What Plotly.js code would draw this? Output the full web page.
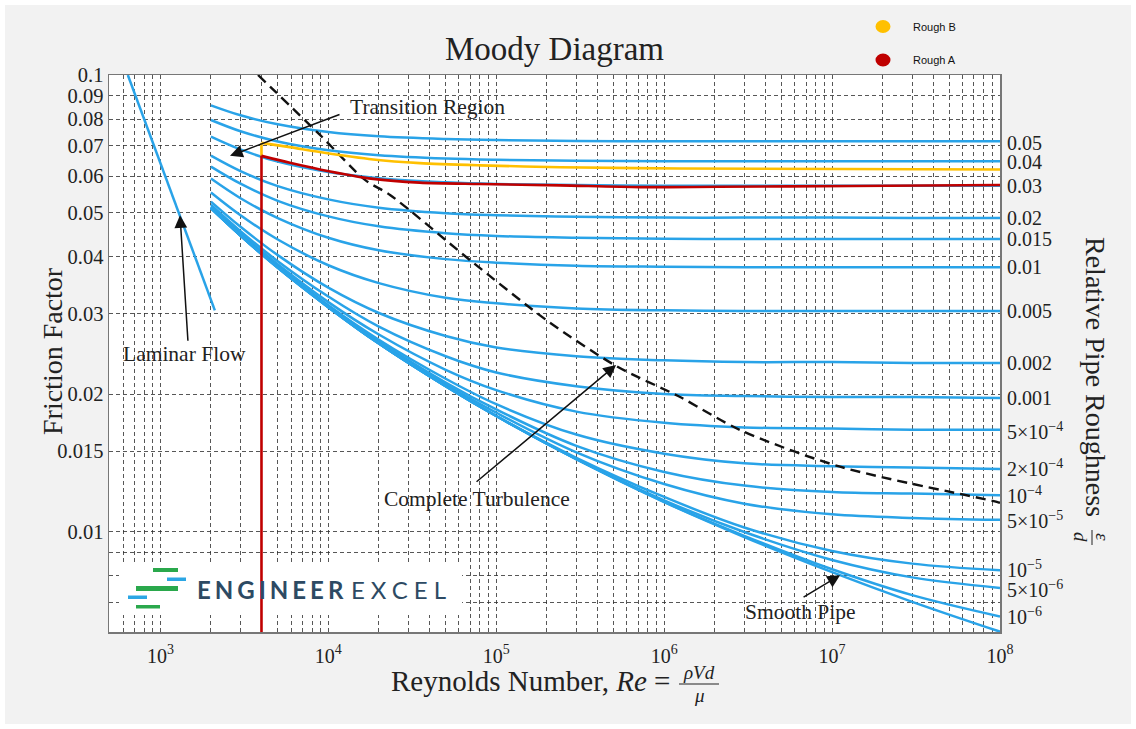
<!DOCTYPE html>
<html>
<head>
<meta charset="utf-8">
<title>Moody Diagram</title>
<script src="https://cdn.plot.ly/plotly-3.0.1.min.js"></script>
<style>
  html, body { margin: 0; padding: 0; background: #ffffff; }
  #chart { position: absolute; left: 5px; top: 5px; width: 1126px; height: 719px; }
</style>
</head>
<body>
<div id="chart"></div>
<script>
// Reynolds numbers at which the turbulent friction curves are sampled
const reynolds = [2000, 3000, 5000, 1e4, 2e4, 5e4, 1e5, 3e5, 1e6, 3e6, 1e7, 3e7, 1e8];

// Friction factor for each relative roughness, one value per Reynolds number above
const f_0_05  = [0.0858, 0.0816, 0.0780, 0.0750, 0.0734, 0.0724, 0.0720, 0.0717, 0.0716, 0.0716, 0.0716, 0.0716, 0.0716];
const f_0_04  = [0.0797, 0.0753, 0.0715, 0.0684, 0.0667, 0.0656, 0.0652, 0.0649, 0.0647, 0.0647, 0.0647, 0.0647, 0.0647];
const f_0_03  = [0.0733, 0.0687, 0.0646, 0.0613, 0.0594, 0.0582, 0.0577, 0.0574, 0.0572, 0.0572, 0.0572, 0.0572, 0.0572];
const f_0_02  = [0.0666, 0.0616, 0.0571, 0.0534, 0.0512, 0.0498, 0.0493, 0.0489, 0.0487, 0.0487, 0.0487, 0.0486, 0.0486];
const f_0_015 = [0.0630, 0.0578, 0.0530, 0.0490, 0.0466, 0.0450, 0.0444, 0.0440, 0.0438, 0.0437, 0.0437, 0.0437, 0.0437];
const f_0_01  = [0.0593, 0.0537, 0.0486, 0.0440, 0.0413, 0.0395, 0.0388, 0.0382, 0.0380, 0.0379, 0.0379, 0.0379, 0.0379];
const f_0_005 = [0.0553, 0.0493, 0.0436, 0.0383, 0.0350, 0.0325, 0.0316, 0.0308, 0.0305, 0.0304, 0.0304, 0.0304, 0.0304];
const f_0_002 = [0.0528, 0.0465, 0.0403, 0.0342, 0.0301, 0.0268, 0.0253, 0.0242, 0.0237, 0.0235, 0.0235, 0.0234, 0.0234];
const f_0_001 = [0.0520, 0.0455, 0.0391, 0.0327, 0.0281, 0.0242, 0.0223, 0.0208, 0.0200, 0.0198, 0.0197, 0.0197, 0.0196];
const f_5e_4  = [0.0515, 0.0450, 0.0385, 0.0318, 0.0270, 0.0226, 0.0204, 0.0183, 0.0173, 0.0169, 0.0168, 0.0167, 0.0167];
const f_2e_4  = [0.0513, 0.0447, 0.0381, 0.0313, 0.0263, 0.0216, 0.0190, 0.0163, 0.0148, 0.0141, 0.0139, 0.0138, 0.0137];
const f_1e_4  = [0.0512, 0.0446, 0.0380, 0.0312, 0.0261, 0.0212, 0.0185, 0.0154, 0.0135, 0.0126, 0.0122, 0.0121, 0.0120];
const f_5e_5  = [0.0511, 0.0445, 0.0379, 0.0311, 0.0259, 0.0210, 0.0182, 0.0149, 0.0127, 0.0115, 0.0109, 0.0107, 0.0106];
const f_1e_5  = [0.0511, 0.0445, 0.0379, 0.0310, 0.0258, 0.0208, 0.0179, 0.0145, 0.0119, 0.0102, 0.00906, 0.00850, 0.00822];
const f_5e_6  = [0.0511, 0.0445, 0.0379, 0.0310, 0.0258, 0.0208, 0.0179, 0.0144, 0.0117, 0.00997, 0.00866, 0.00793, 0.00752];
const f_1e_6  = [0.0511, 0.0445, 0.0378, 0.0310, 0.0258, 0.0208, 0.0179, 0.0144, 0.0116, 0.00978, 0.00826, 0.00725, 0.00651];
const f_smooth = [0.0511, 0.0445, 0.0378, 0.0310, 0.0258, 0.0208, 0.0179, 0.0144, 0.0116, 0.00972, 0.00814, 0.00701, 0.00603];

// Relative roughness labels printed at the right-hand end of each curve
const roughnessLabels = ['0.05', '0.04', '0.03', '0.02', '0.015', '0.01', '0.005', '0.002', '0.001',
  '5×10<sup>−4</sup>', '2×10<sup>−4</sup>', '10<sup>−4</sup>', '5×10<sup>−5</sup>',
  '10<sup>−5</sup>', '5×10<sup>−6</sup>', '10<sup>−6</sup>'];
const roughnessCurves = [f_0_05, f_0_04, f_0_03, f_0_02, f_0_015, f_0_01, f_0_005, f_0_002, f_0_001,
  f_5e_4, f_2e_4, f_1e_4, f_5e_5, f_1e_5, f_5e_6, f_1e_6];

// Laminar flow, f = 64/Re
const laminarRe = [640, 2110];
const laminarF  = [0.1, 0.0305];

// Onset of complete turbulence (dashed boundary)
const turbulenceRe = [3814, 8928, 16550, 23310, 69850, 2.0e5, 5.22e5, 1.244e6, 2.83e6, 1.116e7, 9.57e7, 1e8];
const turbulenceF  = [0.1, 0.0739, 0.0589, 0.0546, 0.0393, 0.0290, 0.0230, 0.0197, 0.01668, 0.01386, 0.01161, 0.01155];

// Measured pipes
const roughBRe = [4000, 5900, 8900, 18500, 35000, 80000, 2.4e5, 1.24e6, 1e8];
const roughBF  = [0.0710, 0.0695, 0.0678, 0.0653, 0.0641, 0.0634, 0.0628, 0.0624, 0.0621];
const roughARe = [4000, 5900, 8900, 18500, 35000, 80000, 2.4e5, 7.2e5, 2.1e6, 1.3e7, 1e8];
const roughAF  = [0.0665, 0.0642, 0.0621, 0.0592, 0.0581, 0.0577, 0.0573, 0.0568, 0.0569, 0.0571, 0.0574];
const entryRe      = [4000, 4000];
const roughAEntryF = [0.0055, 0.0665];
const roughBEntryF = [0.0665, 0.0710];

// Axis ticks
const decadeValues = [1e3, 1e4, 1e5, 1e6, 1e7, 1e8];
const decadeLabels = ['10<sup>3</sup>', '10<sup>4</sup>', '10<sup>5</sup>', '10<sup>6</sup>', '10<sup>7</sup>', '10<sup>8</sup>'];
const frictionTicks = [0.01, 0.015, 0.02, 0.03, 0.04, 0.05, 0.06, 0.07, 0.08, 0.09, 0.1];
const frictionTickLabels = ['0.01', '0.015', '0.02', '0.03', '0.04', '0.05', '0.06', '0.07', '0.08', '0.09', '0.1'];
const frictionMinor = [0.007, 0.008, 0.009];

// Annotated points (arrow tips)
const transitionTip = {re: 2598, f: 0.0665};
const laminarTip    = {re: 1309, f: 0.0493};
const turbulentTip  = {re: 5.17e5, f: 0.02315};
const smoothTip     = {re: 1.116e7, f: 0.00802};

// ---------------------------------------------------------------
const SERIF = '"Liberation Serif", "Times New Roman", serif';
const SANS = '"Liberation Sans", Arial, sans-serif';
const BLUE = 'rgb(41,163,232)';
const GOLD = '#ffc000';
const RED = '#c00000';
const GRID = 'rgba(45,45,45,0.8)';
const INK = '#222222';

// page pixel -> paper fraction (plot area spans x 109..1000, y 75..632 of the page)
const px = x => (x - 109) / 891;
const py = y => (632 - y) / 557;
// page pixel -> axis values (used to place the white panel behind the brand mark)
const pxRe = x => Math.pow(10, 2.694 + (x - 109) / 167.9);
const pyF = y => Math.pow(10, -1 - (y - 75) / 456.4);
const lg = Math.log10;

const xMinor = [];
for (let e = 2; e <= 7; e++) {
  for (let m = 2; m <= 9; m++) {
    const v = m * Math.pow(10, e);
    if (v > 500) xMinor.push(v);
  }
}

const traces = [];
roughnessCurves.concat([f_smooth]).forEach(arr => {
  traces.push({x: reynolds, y: arr, type: 'scatter', mode: 'lines',
    line: {color: BLUE, width: 2.5, shape: 'spline', smoothing: 1},
    hoverinfo: 'skip', showlegend: false});
});
traces.push({x: laminarRe, y: laminarF, type: 'scatter', mode: 'lines',
  line: {color: BLUE, width: 2.5}, hoverinfo: 'skip', showlegend: false});
traces.push({x: turbulenceRe, y: turbulenceF, type: 'scatter', mode: 'lines',
  line: {color: '#111111', width: 2.4, dash: '10px,6px', shape: 'spline', smoothing: 0.8},
  hoverinfo: 'skip', showlegend: false});
traces.push({x: roughBRe, y: roughBF, type: 'scatter', mode: 'lines', name: 'Rough B',
  line: {color: GOLD, width: 2.6, shape: 'spline', smoothing: 0.8}, showlegend: false});
traces.push({x: entryRe, y: roughBEntryF, type: 'scatter', mode: 'lines',
  line: {color: GOLD, width: 2.6}, hoverinfo: 'skip', showlegend: false});
traces.push({x: roughARe, y: roughAF, type: 'scatter', mode: 'lines', name: 'Rough A',
  line: {color: RED, width: 2.6, shape: 'spline', smoothing: 0.8}, showlegend: false});
traces.push({x: entryRe, y: roughAEntryF, type: 'scatter', mode: 'lines',
  line: {color: RED, width: 2.6}, hoverinfo: 'skip', showlegend: false});

const annotations = [];

// roughness labels at the right edge (small nudges keep neighbouring labels apart)
const labelNudge = [-2, -1, 0, 0, 0, 0, 0, 0, 0, -1, 1, 0, 0, 1, -1, 0];
roughnessCurves.forEach((arr, i) => {
  annotations.push({xref: 'paper', x: 1, xanchor: 'left', xshift: 6,
    yref: 'y', y: lg(arr[arr.length - 1]), yanchor: 'middle', yshift: labelNudge[i], borderpad: 0,
    text: roughnessLabels[i], showarrow: false,
    font: {family: SERIF, size: 20, color: INK}});
});

// arrows
function arrow(tip, ax, ay) {
  annotations.push({xref: 'x', yref: 'y', x: lg(tip.re), y: lg(tip.f), text: '',
    showarrow: true, ax: ax, ay: ay, arrowhead: 2, arrowsize: 1.7, arrowwidth: 1.5,
    arrowcolor: '#111111', standoff: 0, startstandoff: 0});
}
arrow(transitionTip, 111, -42);
arrow(laminarTip, 8, 127);
arrow(turbulentTip, -141, 118);
arrow(smoothTip, -38, 23);

function label(text, x, y, size, extra) {
  annotations.push(Object.assign({xref: 'paper', yref: 'paper', x: px(x), y: py(y),
    xanchor: 'center', yanchor: 'middle', text: text, showarrow: false, borderpad: 0,
    font: {family: SERIF, size: size, color: INK}}, extra || {}));
}
label('Transition Region', 427, 107, 21.5);
label('Laminar Flow', 184, 354, 21.5);
label('Complete Turbulence', 477, 499, 21.5);
label('Smooth Pipe', 800, 612, 21.5);

// axis titles
label('Friction Factor', 52, 351, 28, {textangle: -90});
label('Reynolds Number, <i>Re</i> =', 671, 681, 29, {xanchor: 'right'});
label('<i>ρVd</i>', 699, 672, 19);
label('<i>μ</i>', 699, 695, 19);
label('Relative Pipe Roughness', 1096, 377, 28, {textangle: 90});
label('<i>ε</i>', 1103, 537, 19, {textangle: 90});
label('<i>d</i>', 1081, 537, 19, {textangle: 90});

// legend
annotations.push({xref: 'paper', yref: 'paper', x: px(911), y: py(27), xanchor: 'left', yanchor: 'middle',
  text: 'Rough B', showarrow: false, font: {family: SANS, size: 11, color: '#111'}});
annotations.push({xref: 'paper', yref: 'paper', x: px(911), y: py(60), xanchor: 'left', yanchor: 'middle',
  text: 'Rough A', showarrow: false, font: {family: SANS, size: 11, color: '#111'}});

// brand mark
annotations.push({xref: 'paper', yref: 'paper', x: px(272), y: py(589), xanchor: 'center', yanchor: 'middle',
  text: 'ENGINEER', showarrow: false, font: {family: 'Lato, "DejaVu Sans", sans-serif', size: 24, weight: 700, color: '#2d4a63'}});
annotations.push({xref: 'paper', yref: 'paper', x: px(401), y: py(589), xanchor: 'center', yanchor: 'middle',
  text: 'EXCEL', showarrow: false, font: {family: 'Lato, "DejaVu Sans", sans-serif', size: 24, weight: 400, color: '#2d4a63'}});

const GREEN = '#2aa84c';
const LOGOBLUE = '#2ba6e4';
function bar(x0, x1, y0, y1, color) {
  return {type: 'rect', xref: 'paper', yref: 'paper', layer: 'above',
    x0: px(x0), x1: px(x1), y0: py(y1), y1: py(y0), fillcolor: color, line: {width: 0}};
}

const shapes = [
  // white panel behind the brand mark (sits over the grid, under the curves)
  {type: 'rect', xref: 'x', yref: 'y', layer: 'between',
    x0: pxRe(119), x1: pxRe(462), y0: pyF(615), y1: pyF(562), fillcolor: '#ffffff', line: {width: 0}},
  bar(153, 178, 568, 572, GREEN),
  bar(167, 186, 577.5, 581, LOGOBLUE),
  bar(136, 178, 586, 591, GREEN),
  bar(128, 147, 595.5, 599, LOGOBLUE),
  bar(136, 160, 605, 608.5, GREEN),
  // fraction bars
  {type: 'line', xref: 'paper', yref: 'paper', x0: px(679), x1: px(719), y0: py(684), y1: py(684),
    line: {color: INK, width: 1}},
  {type: 'line', xref: 'paper', yref: 'paper', x0: px(1092), x1: px(1092), y0: py(530), y1: py(545),
    line: {color: INK, width: 1}},
  // legend markers
  {type: 'circle', xref: 'paper', yref: 'paper', layer: 'above', x0: px(875.5), x1: px(890.5), y0: py(33), y1: py(20),
    fillcolor: GOLD, line: {width: 0}},
  {type: 'circle', xref: 'paper', yref: 'paper', layer: 'above', x0: px(875.5), x1: px(890.5), y0: py(66.5), y1: py(53.5),
    fillcolor: RED, line: {width: 0}}
];

const gridStyle = {showgrid: true, gridcolor: GRID, gridwidth: 1, griddash: '4px,3px'};

const layout = {
  width: 1126, height: 719,
  margin: {l: 104, r: 131, t: 70, b: 92, pad: 0},
  paper_bgcolor: '#f2f2f2',
  plot_bgcolor: '#ffffff',
  showlegend: false,
  font: {family: SERIF, color: INK},
  title: {text: 'Moody Diagram', font: {family: SERIF, size: 33, color: INK},
    xref: 'paper', x: 0.5, xanchor: 'center', yref: 'container', y: 1 - 43 / 719, yanchor: 'middle'},
  xaxis: Object.assign({type: 'log', range: [2.694, 8], tickmode: 'array', tickvals: decadeValues, ticktext: decadeLabels,
    tickfont: {family: SERIF, size: 20, color: INK}, ticks: '', ticklabelstandoff: 5,
    showline: true, linecolor: '#777777', linewidth: 1.5, mirror: true, zeroline: false,
    minor: Object.assign({tickmode: 'array', tickvals: xMinor, ticks: ''}, gridStyle)}, gridStyle),
  yaxis: Object.assign({type: 'log', range: [-2.2204, -1], tickmode: 'array', tickvals: frictionTicks, ticktext: frictionTickLabels,
    tickfont: {family: SERIF, size: 20.5, color: INK}, ticks: '', ticklabelstandoff: 0,
    showline: true, linecolor: '#777777', linewidth: 1.5, mirror: true, zeroline: false,
    minor: Object.assign({tickmode: 'array', tickvals: frictionMinor, ticks: ''}, gridStyle)}, gridStyle),
  annotations: annotations,
  shapes: shapes
};

Plotly.newPlot('chart', traces, layout, {displayModeBar: false, staticPlot: true}).then(() => {
  document.querySelectorAll('.annotation-text').forEach(t => {
    if (t.textContent === 'ENGINEER') t.style.letterSpacing = '4px';
    if (t.textContent === 'EXCEL') t.style.letterSpacing = '6px';
  });
});
</script>
</body>
</html>
